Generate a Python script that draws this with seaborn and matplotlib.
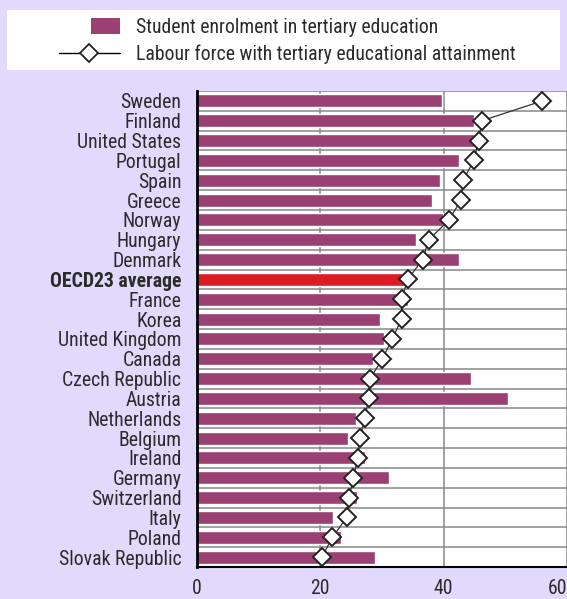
import numpy as np
import pandas as pd
import matplotlib
matplotlib.use('Agg')
import matplotlib.pyplot as plt
import seaborn as sns
from matplotlib.patches import Patch, Rectangle
from matplotlib.lines import Line2D
from matplotlib.legend_handler import HandlerPatch

# data
countries = ['Sweden', 'Finland', 'United States', 'Portugal', 'Spain', 'Greece',
             'Norway', 'Hungary', 'Denmark', 'OECD23 average', 'France', 'Korea',
             'United Kingdom', 'Canada', 'Czech Republic', 'Austria', 'Netherlands',
             'Belgium', 'Ireland', 'Germany', 'Switzerland', 'Italy', 'Poland',
             'Slovak Republic']
enrolment = [39.7, 44.9, 45.3, 42.5, 39.4, 38.1, 39.9, 35.5, 42.5, 34.0, 34.2, 29.7,
             30.4, 28.6, 44.5, 50.5, 25.8, 24.5, 27.3, 31.2, 26.0, 22.1, 23.4, 28.9]
labour = [56.0, 46.2, 45.7, 44.9, 43.2, 42.8, 40.9, 37.6, 36.6, 34.2, 33.2, 33.2,
          31.7, 30.1, 28.1, 27.9, 27.2, 26.5, 26.1, 25.4, 24.7, 24.3, 22.0, 20.3]
xticks = [0, 20, 40, 60]

bar_col = '#9B4072'
avg_col = '#DC1C23'
bg = '#E2DAFC'
txt = '#2b2b2b'
fs = 14.2

df = pd.DataFrame({'country': countries, 'enrolment': enrolment, 'labour': labour})

sns.set_style('white')
plt.rcParams['font.family'] = ['Roboto Condensed', 'Archivo Narrow', 'DejaVu Sans']

fig = plt.figure(figsize=(5.67, 5.99), dpi=100, facecolor=bg)
ax = fig.add_axes([196.7 / 567, 1 - 567 / 599, 1 - 196.7 / 567, (567 - 91) / 599])
ax.set_facecolor('white')

pal = [avg_col if c == 'OECD23 average' else bar_col for c in countries]
sns.barplot(data=df, x='enrolment', y='country', hue='country', palette=pal,
            legend=False, width=0.65, saturation=1, ax=ax, zorder=2)

pos = np.arange(len(countries))
ax.plot(df['labour'], pos, color='#333333', lw=0.9, marker='D', markersize=9,
        markerfacecolor='white', markeredgecolor='#222222', markeredgewidth=1.4, zorder=4)

ax.set_xlim(0, 60)
ax.set_ylim(len(countries) - 0.5, -0.5)
ax.set_xticks(xticks)
ax.set_xticklabels([str(t) for t in xticks])
ax.set_xlabel('')
ax.set_ylabel('')

ax.set_yticks(pos)
ax.set_yticks(np.arange(len(countries) + 1) - 0.5, minor=True)
ax.tick_params(axis='y', which='major', length=0, pad=11, labelsize=fs, labelcolor=txt)
ax.tick_params(axis='y', which='minor', length=5, width=1, direction='in', color='black')
ax.tick_params(axis='x', which='major', length=5, width=1, direction='in', color='black',
               labelsize=fs, labelcolor=txt, pad=8.5)
for lab in ax.get_yticklabels():
    if lab.get_text() == 'OECD23 average':
        lab.set_fontweight('bold')
ax.get_xticklabels()[-1].set_horizontalalignment('right')

ax.grid(False)
ax.xaxis.grid(True, which='major', color='#888888', lw=1.1, zorder=0)
ax.yaxis.grid(True, which='minor', color='#888888', lw=1.1, zorder=0)
ax.set_axisbelow(True)
for s in ['top', 'right']:
    ax.spines[s].set_visible(False)
ax.spines['left'].set_color('black')
ax.spines['left'].set_linewidth(2)
ax.spines['bottom'].set_color('black')
ax.spines['bottom'].set_linewidth(1.5)


# small swatch sitting at the right of the handle box
def swatch(legend, orig_handle, xdescent, ydescent, width, height, fontsize):
    return Rectangle((0.53 * width - xdescent, -0.1 * height - ydescent),
                     0.47 * width, 1.2 * height)


# legend on a white band
fig.add_artist(Rectangle((7 / 567, 1 - 70 / 599), 553 / 567, 60 / 599,
                         transform=fig.transFigure, facecolor='white', edgecolor='none'))
handles = [Patch(facecolor=bar_col, edgecolor='none'),
           Line2D([], [], color='black', lw=1, marker='D', markersize=9,
                  markerfacecolor='white', markeredgecolor='#222222', markeredgewidth=1.3)]
fig.legend(handles, ['Student enrolment in tertiary education',
                     'Labour force with tertiary educational attainment'],
           loc='center left', bbox_to_anchor=(41 / 567, 1 - 41 / 599), frameon=False,
           handlelength=3.1, handletextpad=0.8, labelspacing=0.4, fontsize=fs,
           labelcolor=txt, handler_map={Patch: HandlerPatch(patch_func=swatch)})

fig.savefig('out.png', dpi=100, facecolor=bg)
